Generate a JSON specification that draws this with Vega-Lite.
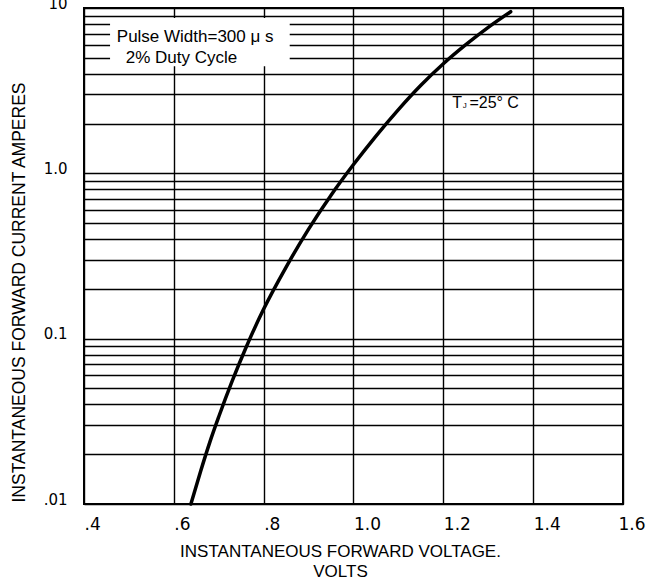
{
  "$schema": "https://vega.github.io/schema/vega-lite/v6.json",
  "width": 539,
  "height": 496,
  "autosize": {"type": "none"},
  "padding": {"left": 84, "top": 8, "right": 26, "bottom": 77},
  "background": "white",
  "config": {
    "view": {"stroke": "black", "strokeWidth": 2},
    "axis": {
      "domain": false,
      "ticks": false,
      "tickSize": 0,
      "grid": true,
      "gridColor": "black",
      "gridOpacity": 1,
      "gridWidth": 1.4,
      "labelColor": "black",
      "titleColor": "black",
      "labelFont": "DejaVu Sans",
      "titleFont": "Liberation Sans",
      "titleFontWeight": "normal",
      "labelOverlap": false,
      "labelBound": false,
      "labelFlush": false
    }
  },
  "datasets": {
    "curve": [
      {"volts": 0.638, "amps": 0.0100},
      {"volts": 0.660, "amps": 0.0159},
      {"volts": 0.680, "amps": 0.0236},
      {"volts": 0.700, "amps": 0.0337},
      {"volts": 0.730, "amps": 0.0555},
      {"volts": 0.760, "amps": 0.0875},
      {"volts": 0.800, "amps": 0.151},
      {"volts": 0.850, "amps": 0.271},
      {"volts": 0.900, "amps": 0.460},
      {"volts": 0.950, "amps": 0.738},
      {"volts": 1.000, "amps": 1.13},
      {"volts": 1.050, "amps": 1.68},
      {"volts": 1.100, "amps": 2.43},
      {"volts": 1.150, "amps": 3.41},
      {"volts": 1.200, "amps": 4.60},
      {"volts": 1.250, "amps": 6.00},
      {"volts": 1.300, "amps": 7.64},
      {"volts": 1.350, "amps": 9.50}
    ]
  },
  "layer": [
    {
      "data": {"name": "curve"},
      "mark": {"type": "line", "color": "black", "strokeWidth": 3.5, "interpolate": "monotone", "strokeCap": "round"},
      "encoding": {
        "x": {
          "field": "volts",
          "type": "quantitative",
          "scale": {"domain": [0.4, 1.6], "nice": false, "zero": false},
          "axis": {
            "values": [0.4, 0.6, 0.8, 1.0, 1.2, 1.4, 1.6],
            "labelExpr": "datum.value < 0.99 ? '.' + format(datum.value * 10, '.0f') : format(datum.value, '.1f')",
            "labelAlign": "left",
            "labelBaseline": "alphabetic",
            "labelPadding": 25,
            "labelFontSize": 17,
            "labelOffset": {"condition": {"test": "datum.value > 1.5", "value": -5}, "value": 0},
            "title": ["INSTANTANEOUS FORWARD VOLTAGE.", "VOLTS"],
            "titleFontSize": 17,
            "titleX": 256,
            "titleY": 52,
            "titleBaseline": "alphabetic",
            "titleLineHeight": 20
          }
        },
        "y": {
          "field": "amps",
          "type": "quantitative",
          "scale": {"type": "log", "domain": [0.01, 10], "nice": false},
          "axis": {
            "values": [0.01, 0.02, 0.03, 0.04, 0.05, 0.06, 0.07, 0.08, 0.09, 0.1, 0.2, 0.3, 0.4, 0.5, 0.6, 0.7, 0.8, 0.9, 1, 2, 3, 4, 5, 6, 7, 8, 9, 10],
            "labelExpr": "datum.value == 0.01 ? '.01' : datum.value == 0.1 ? '0.1' : datum.value == 1 ? '1.0' : datum.value == 10 ? '10' : ''",
            "labelFontSize": 15,
            "labelPadding": 17,
            "labelBaseline": "alphabetic",
            "title": "INSTANTANEOUS FORWARD CURRENT AMPERES",
            "titleFontSize": 17.5,
            "titleAngle": 270,
            "titleX": -65,
            "titleY": 284,
            "titleAlign": "center",
            "titleBaseline": "middle"
          }
        }
      }
    },
    {
      "data": {"values": [{"volts": 0.458, "volts2": 0.858, "amps": 8.7, "amps2": 4.45}]},
      "mark": {"type": "rect", "fill": "white", "stroke": null},
      "encoding": {
        "x": {"field": "volts", "type": "quantitative"},
        "x2": {"field": "volts2"},
        "y": {"field": "amps", "type": "quantitative"},
        "y2": {"field": "amps2"}
      }
    },
    {
      "data": {"values": [
        {"volts": 0.473, "amps": 6.22, "label": "Pulse Width=300 μ s"},
        {"volts": 0.493, "amps": 4.64, "label": "2% Duty Cycle"}
      ]},
      "mark": {"type": "text", "align": "left", "baseline": "alphabetic", "font": "Liberation Sans", "fontSize": 17, "color": "black"},
      "encoding": {
        "x": {"field": "volts", "type": "quantitative"},
        "y": {"field": "amps", "type": "quantitative"},
        "text": {"field": "label"}
      }
    },
    {
      "data": {"values": [{"volts": 1.22, "amps": 2.48, "label": "T"}]},
      "mark": {"type": "text", "align": "left", "baseline": "alphabetic", "font": "Liberation Sans", "fontSize": 16, "color": "black"},
      "encoding": {
        "x": {"field": "volts", "type": "quantitative"},
        "y": {"field": "amps", "type": "quantitative"},
        "text": {"field": "label"}
      }
    },
    {
      "data": {"values": [{"volts": 1.2435, "amps": 2.48, "label": "J"}]},
      "mark": {"type": "text", "align": "left", "baseline": "alphabetic", "font": "Liberation Sans", "fontSize": 8, "color": "black"},
      "encoding": {
        "x": {"field": "volts", "type": "quantitative"},
        "y": {"field": "amps", "type": "quantitative"},
        "text": {"field": "label"}
      }
    },
    {
      "data": {"values": [{"volts": 1.258, "amps": 2.48, "label": "=25° C"}]},
      "mark": {"type": "text", "align": "left", "baseline": "alphabetic", "font": "Liberation Sans", "fontSize": 16, "color": "black"},
      "encoding": {
        "x": {"field": "volts", "type": "quantitative"},
        "y": {"field": "amps", "type": "quantitative"},
        "text": {"field": "label"}
      }
    }
  ]
}
